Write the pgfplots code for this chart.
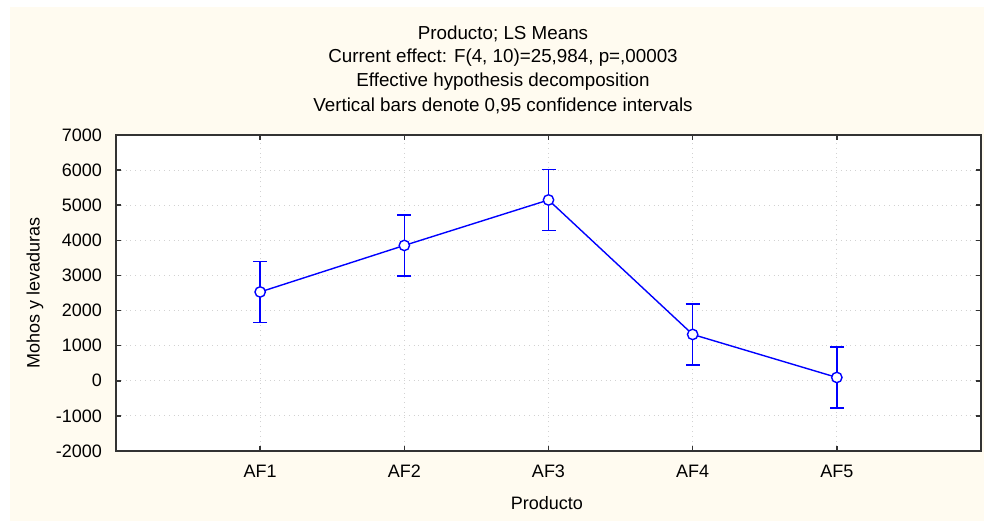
\documentclass[border=0pt]{standalone}
\usepackage{pgfplots}
\pgfplotsset{compat=1.18}
\usepackage{fontspec}
\setmainfont{Liberation Sans}
\definecolor{cream}{RGB}{255,251,240}
\definecolor{gridc}{RGB}{210,210,210}
\pgfplotstableread{
x y e
1 2530 870
2 3855 870
3 5150 870
4 1320 870
5 95 870
}\means
\begin{document}
\begin{tikzpicture}
\fill[white] (-58pt,-35pt) rectangle (434pt,225.5pt);
\fill[cream] (-53pt,-35pt) rectangle (434pt,222pt);
\begin{axis}[
  at={(0,0)}, anchor=south west,
  scale only axis,
  width=432.5pt, height=158pt,
  xmin=0, xmax=6, ymin=-2000, ymax=7000,
  xtick={1,2,3,4,5},
  xticklabels={AF1,AF2,AF3,AF4,AF5},
  ytick={-2000,-1000,0,1000,2000,3000,4000,5000,6000,7000},
  /pgf/number format/assume math mode=true,
  /pgf/number format/1000 sep={},
  scaled y ticks=false,
  font=\fontsize{9}{10.8}\selectfont,
  tick label style={font=\fontsize{9}{10.8}\selectfont},
  axis background/.style={fill=white},
  axis line style={black!80, line width=1pt},
  tick style={black!80, line width=0.8pt},
  major tick length=2.5pt,
  tick pos=both, tick align=inside,
  grid=major,
  major grid style={gridc, dotted, line width=0.5pt},
  xticklabel style={anchor=center, yshift=-10pt},
  yticklabel style={anchor=east, xshift=-3.5pt},
  xlabel={Producto},
  ylabel={Mohos y levaduras},
  every axis x label/.style={at={(axis description cs:0.498,-0.1646)}, anchor=center},
  every axis y label/.style={at={(axis description cs:-0.0936,0.5)}, anchor=center, rotate=90},
]
\addplot[blue, line width=0.7pt, no marks,
  error bars/.cd, y dir=both, y explicit,
  error bar style={blue, line width=0.7pt},
  error mark options={blue, line width=0.7pt, mark size=3.5pt, rotate=90}]
  table[x=x, y=y, y error=e] {\means};
\addplot[blue, only marks, mark=*, mark size=2.6pt,
  mark options={fill=white, draw=blue, line width=0.7pt, solid}]
  table[x=x, y=y] {\means};
\end{axis}
\node[font=\fontsize{9.4}{11}\selectfont] at (193.5pt,208.5pt) {Producto; LS Means};
\node[font=\fontsize{9.4}{11}\selectfont] at (193.5pt,196.5pt) {Current effect: F(4, 10)=25,984, p=,00003};
\node[font=\fontsize{9.4}{11}\selectfont] at (193.5pt,184.5pt) {Effective hypothesis decomposition};
\node[font=\fontsize{9.4}{11}\selectfont] at (193.5pt,172.5pt) {Vertical bars denote 0,95 confidence intervals};
\pgfresetboundingbox
\path[use as bounding box] (-58pt,-35pt) rectangle (434pt,225.5pt);
\end{tikzpicture}
\end{document}
